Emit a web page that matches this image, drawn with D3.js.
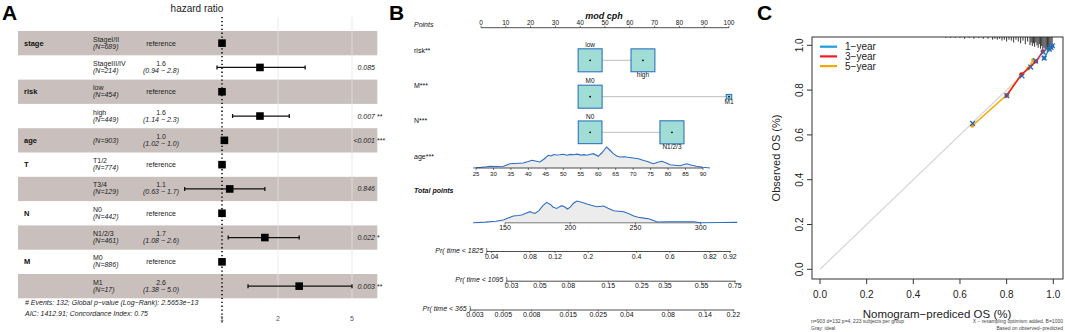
<!DOCTYPE html>
<html>
<head>
<meta charset="utf-8">
<script src="https://cdn.jsdelivr.net/npm/d3@7"></script>
<style>
  body { margin: 0; background: #fff; }
  svg { display: block; font-family: "Liberation Sans", Arial, sans-serif; }
</style>
</head>
<body>
<div class="figure"></div>
<script>
// ---------- panel A : forest plot data
var varNames   = ["stage", "", "risk", "", "age", "T", "", "N", "", "M", ""];
var levelNames = ["StageI/II", "StageIII/IV", "low", "high", "", "T1/2", "T3/4", "N0", "N1/2/3", "M0", "M1"];
var levelN     = [689, 214, 454, 449, 903, 774, 129, 442, 461, 886, 17];
var hrLabel    = ["reference", "1.6", "reference", "1.6", "1.0", "reference", "1.1", "reference", "1.7", "reference", "2.6"];
var ciLabel    = ["", "(0.94 − 2.8)", "", "(1.14 − 2.3)", "(1.02 − 1.0)", "", "(0.63 − 1.7)", "", "(1.08 − 2.6)", "", "(1.38 − 5.0)"];
var hrValue    = [1, 1.6, 1, 1.6, 1.03, 1, 1.1, 1, 1.7, 1, 2.6];
var ciLow      = [null, 0.94, null, 1.14, null, null, 0.63, null, 1.08, null, 1.38];
var ciHigh     = [null, 2.8, null, 2.3, null, null, 1.7, null, 2.6, null, 5.0];
var pValue     = ["", "0.085", "", "0.007", "<0.001", "", "0.846", "", "0.022", "", "0.003"];
var pStars     = ["", "", "", "**", "***", "", "", "", "*", "", "**"];
var hrTicks    = [1, 2, 5];

// ---------- panel B : nomogram data
var pointTicks  = [0, 10, 20, 30, 40, 50, 60, 70, 80, 90, 100];
var riskLevels  = ["low", "high"],  riskPoints = [44, 65.3], riskN = [454, 449];
var mLevels     = ["M0", "M1"],     mPoints    = [44, 100],  mN    = [886, 17];
var nLevels     = ["N0", "N1/2/3"], nPoints    = [44, 77],   nN    = [442, 461];
var ageTicks    = [25, 30, 35, 40, 45, 50, 55, 60, 65, 70, 75, 80, 85, 90];
var ageDensAge  = [24.2, 26, 28, 29, 31, 32.8, 33.5, 34.7, 36, 37.5, 38.5, 40, 41, 42, 43.3, 44.5, 45.7, 46.5, 47.3, 48, 49, 50, 51, 52, 52.9, 54, 55, 56, 56.7, 57.5, 58.6, 60, 61, 62.4, 63.3, 64.3, 65.3, 66.3, 67.5, 69, 70, 71.5, 73, 73.9, 75, 75.8, 77, 78.2, 79.5, 80.6, 82, 83.5, 84.5, 85.4, 86.5, 88.2, 90, 92];
var ageDens     = [0, 0.5, 1.2, 1.7, 1.5, 1.7, 2.5, 4.3, 4.5, 4.8, 5, 6.5, 7.7, 7, 6, 9, 12.7, 12, 13.5, 13, 13.3, 13.8, 12.8, 13.6, 13.3, 13.9, 12.9, 13.4, 12.7, 13.5, 14.3, 11.7, 15, 21, 18, 14.3, 12, 11, 11.3, 10.5, 10, 9.2, 7.5, 6.7, 5.2, 4.3, 5.8, 6.7, 5, 3.3, 2.8, 2.3, 3.5, 4.3, 3, 1.7, 0.8, 0];
var totalTicks  = [150, 200, 250, 300];
var totalDensPt = [125.6, 135, 143, 148.7, 152, 156.4, 160, 162.8, 166, 169.2, 171, 173, 176, 179, 182, 185, 187, 189.7, 191.5, 193.6, 195.5, 197.9, 200, 202.5, 205.1, 208, 212.8, 216, 220.5, 225.6, 229, 233.3, 237, 241, 245, 248.7, 252, 257.7, 260, 262.8, 266.7, 275, 285, 294.9, 300, 315, 328];
var totalDens   = [0, 0.6, 1.5, 2.7, 4.5, 6.7, 7.2, 7.7, 9.5, 11, 10, 9.3, 12, 17, 20.3, 18, 15.5, 14.3, 15.8, 17, 16, 13.7, 15.5, 19.5, 21.7, 20.7, 18.7, 17.5, 16, 16.7, 14.5, 12, 11.5, 11, 9, 6.7, 5.5, 4.3, 4, 2.7, 0.7, 0.9, 1, 1, 0, 0.2, 0.3];
var prNames     = ["Pr( time < 1825 )", "Pr( time < 1095 )", "Pr( time < 365 )"];
var pr1825Ticks = ["0.04", "0.08", "0.12", "0.2", "0.4", "0.6", "0.82", "0.92"];
var pr1825At    = [139.8, 169.2, 188.3, 213.8, 250.9, 276.4, 307.1, 322.4];
var pr1095Ticks = ["0.03", "0.05", "0.08", "0.15", "0.25", "0.35", "0.55", "0.75"];
var pr1095At    = [155.1, 176.8, 198.5, 229.2, 254.8, 272.6, 300.7, 326.2];
var pr365Ticks  = ["0.003", "0.005", "0.008", "0.015", "0.025", "0.04", "0.08", "0.14", "0.22"];
var pr365At     = [127, 148.7, 170.5, 198.5, 221.5, 243.3, 275.1, 303.3, 325];

// ---------- panel C : calibration data
var calTicks    = [0, 0.2, 0.4, 0.6, 0.8, 1.0];
var legendNames = ["1−year", "3−year", "5−year"];
var cal1Pred = [0.961, 0.983, 0.990, 0.996], cal1Obs = [0.943, 0.983, 0.991, 0.998];
var cal3Pred = [0.800, 0.864, 0.926, 0.955], cal3Obs = [0.775, 0.870, 0.928, 0.973];
var cal5Pred = [0.653, 0.800, 0.862, 0.893, 0.914], cal5Obs = [0.641, 0.778, 0.869, 0.897, 0.934];
var corrPred = [0.654, 0.801, 0.866, 0.903, 0.924, 0.957, 0.961, 0.983, 0.990, 0.996];
var corrObs  = [0.651, 0.775, 0.863, 0.903, 0.930, 0.969, 0.943, 0.983, 0.991, 0.998];
var rugPred  = [0.54, 0.56, 0.58, 0.60, 0.62, 0.64, 0.66, 0.68, 0.70, 0.72, 0.74, 0.75, 0.76, 0.77, 0.78, 0.79, 0.80, 0.81, 0.82, 0.83, 0.84, 0.85, 0.86, 0.87, 0.88, 0.89, 0.90, 0.905, 0.91, 0.915, 0.92, 0.925, 0.93, 0.935, 0.94, 0.945, 0.95, 0.955, 0.96, 0.965, 0.97, 0.975, 0.98, 0.985, 0.99, 0.995];
var rugCount = [1, 1, 1, 1, 2, 1, 2, 1, 2, 2, 3, 2, 3, 2, 4, 3, 5, 3, 4, 6, 3, 5, 7, 4, 8, 5, 9, 6, 10, 7, 11, 6, 9, 12, 8, 13, 10, 14, 12, 15, 14, 16, 15, 16, 14, 12];

var svg = d3.select(".figure").append("svg")
    .attr("width", 1065)
    .attr("height", 332);

svg.append("rect").attr("width", 1065).attr("height", 332).attr("fill", "#fff");

// panel letters
svg.append("text").attr("x", 2).attr("y", 20).style("font-size", "21px").style("font-weight", "bold").text("A");
svg.append("text").attr("x", 389).attr("y", 20).style("font-size", "21px").style("font-weight", "bold").text("B");
svg.append("text").attr("x", 757).attr("y", 20).style("font-size", "21px").style("font-weight", "bold").text("C");

// =====================================================================
// panel A
var pa = svg.append("g");
var rowY = d3.scaleBand().domain(d3.range(levelNames.length)).range([31, 298.3]);
var hrX = d3.scaleLog().domain([1, 5]).range([222, 352]);
var mid = function(i) { return rowY(i) + rowY.bandwidth() / 2; };

pa.append("text")
  .attr("x", 197).attr("y", 12)
  .attr("text-anchor", "middle")
  .style("font-size", "10px").style("fill", "#222")
  .text("hazard ratio");

// shaded rows
pa.selectAll("rect.band")
  .data(levelNames)
  .enter().append("rect")
    .attr("x", 18).attr("width", 359.3)
    .attr("y", (d, i) => rowY(i))
    .attr("height", rowY.bandwidth())
    .attr("fill", (d, i) => i % 2 == 0 ? "#c9c0bd" : "none");

// grid lines for 2 and 5
pa.selectAll("line.grid")
  .data(hrTicks.slice(1))
  .enter().append("line")
    .attr("x1", d => hrX(d)).attr("x2", d => hrX(d))
    .attr("y1", 17).attr("y2", 298)
    .style("stroke", "#e3e3e3").style("stroke-width", 1.2).style("opacity", 0.6);

// reference line at HR = 1
pa.append("line")
  .attr("x1", hrX(1)).attr("x2", hrX(1))
  .attr("y1", 17).attr("y2", 324)
  .style("stroke", "#000").style("stroke-width", 1.5)
  .style("stroke-dasharray", "1.3,2.6");

// axis labels
pa.selectAll("text.tick")
  .data(hrTicks)
  .enter().append("text")
    .attr("x", d => hrX(d)).attr("y", 321)
    .attr("text-anchor", "middle")
    .style("font-size", "7px").style("fill", "#555")
    .text(d => d);

// variable names
pa.selectAll("text.var")
  .data(varNames)
  .enter().append("text")
    .attr("x", 24).attr("y", (d, i) => mid(i) + 2.5)
    .style("font-size", "7.5px").style("font-weight", "bold").style("fill", "#111")
    .text(d => d);

// level + N
levelNames.forEach(function(d, i) {
  var c = mid(i);
  if (d != "") {
    pa.append("text").attr("x", 93).attr("y", c - 1.5)
      .style("font-size", "7px").style("fill", "#222").text(d);
    pa.append("text").attr("x", 93).attr("y", c + 5.5)
      .style("font-size", "7px").style("font-style", "italic").style("fill", "#222")
      .text("(N=" + levelN[i] + ")");
  } else {
    pa.append("text").attr("x", 93).attr("y", c + 2.5)
      .style("font-size", "7px").style("font-style", "italic").style("fill", "#222")
      .text("(N=" + levelN[i] + ")");
  }
  // estimate column
  if (ciLabel[i] == "") {
    pa.append("text").attr("x", 161).attr("y", c + 2.5).attr("text-anchor", "middle")
      .style("font-size", "7px").style("fill", "#222").text(hrLabel[i]);
  } else {
    pa.append("text").attr("x", 161).attr("y", c - 1.5).attr("text-anchor", "middle")
      .style("font-size", "7px").style("fill", "#222").text(hrLabel[i]);
    pa.append("text").attr("x", 161).attr("y", c + 5.5).attr("text-anchor", "middle")
      .style("font-size", "7px").style("font-style", "italic").style("fill", "#222").text(ciLabel[i]);
  }
  // p values
  if (pValue[i] != "") {
    pa.append("text").attr("x", 375).attr("y", c + 2.5).attr("text-anchor", "end")
      .style("font-size", "7px").style("font-style", "italic").style("fill", "#222").text(pValue[i]);
    pa.append("text").attr("x", 377).attr("y", c + 2.5)
      .style("font-size", "7px").style("fill", "#222").text(pStars[i]);
  }
  // whiskers
  if (ciLow[i] != null) {
    var g = pa.append("g").style("stroke", "#111").style("stroke-width", 1.3);
    g.append("line").attr("x1", hrX(ciLow[i])).attr("x2", hrX(ciHigh[i])).attr("y1", c).attr("y2", c);
    g.append("line").attr("x1", hrX(ciLow[i])).attr("x2", hrX(ciLow[i])).attr("y1", c - 2).attr("y2", c + 2);
    g.append("line").attr("x1", hrX(ciHigh[i])).attr("x2", hrX(ciHigh[i])).attr("y1", c - 2).attr("y2", c + 2);
  }
});

// estimate squares
pa.selectAll("rect.est")
  .data(hrValue)
  .enter().append("rect")
    .attr("x", d => hrX(d) - 3.8).attr("y", (d, i) => mid(i) - 3.8)
    .attr("width", 7.6).attr("height", 7.6)
    .attr("fill", "#000");

// footer
pa.append("text").attr("x", 25).attr("y", 305)
  .style("font-size", "7px").style("font-style", "italic").style("fill", "#222")
  .text("# Events: 132; Global p−value (Log−Rank): 2.5653e−13");
pa.append("text").attr("x", 25).attr("y", 315.5)
  .style("font-size", "7px").style("font-style", "italic").style("fill", "#222")
  .text("AIC: 1412.91; Concordance Index: 0.75");

// =====================================================================
// panel B
var pb = svg.append("g").style("fill", "#111");
var ptX = d3.scaleLinear().domain([0, 100]).range([481, 729]);
var ageX = d3.scaleLinear().domain([25, 90]).range([476, 703]);
var totX = d3.scaleLinear().domain([150, 300]).range([505, 700.7]);
var boxSize = d3.scaleSqrt().domain([0, 454]).range([0, 23]).clamp(true);

pb.append("text").attr("x", 604).attr("y", 19).attr("text-anchor", "middle")
  .style("font-size", "9px").style("font-weight", "bold").style("font-style", "italic")
  .text("mod cph");

function rowLabel(txt, y, bold) {
  pb.append("text").attr("x", 414).attr("y", y)
    .style("font-size", "7px")
    .style("font-style", bold ? "italic" : "normal")
    .style("font-weight", bold ? "bold" : "normal")
    .text(txt);
}
pb.append("text").attr("x", 414).attr("y", 27).style("font-size", "7px").style("font-style", "italic").text("Points");
rowLabel("risk**", 52.5);
rowLabel("M***", 88);
rowLabel("N***", 122.5);
rowLabel("age***", 159);
rowLabel("Total points", 192.5, true);

// points axis
pb.append("line").attr("x1", ptX(0)).attr("x2", ptX(100)).attr("y1", 27.7).attr("y2", 27.7)
  .style("stroke", "#222").style("stroke-width", 0.8);
pb.selectAll("line.pt").data(pointTicks).enter().append("line")
  .attr("x1", d => ptX(d)).attr("x2", d => ptX(d)).attr("y1", 27.7).attr("y2", 25.7)
  .style("stroke", "#222").style("stroke-width", 0.6);
pb.selectAll("text.pt").data(pointTicks).enter().append("text")
  .attr("x", d => ptX(d)).attr("y", 25).attr("text-anchor", "middle")
  .style("font-size", "6.5px").text(d => d);

// categorical rows with boxes
function boxRow(levels, points, ns, cy) {
  pb.append("line").attr("x1", ptX(d3.min(points))).attr("x2", ptX(d3.max(points)))
    .attr("y1", cy).attr("y2", cy).style("stroke", "#bdbdbd").style("stroke-width", 1);
  levels.forEach(function(lv, i) {
    var s = boxSize(ns[i]);
    pb.append("rect").attr("x", ptX(points[i]) - s / 2 - 0.5).attr("y", cy - s / 2)
      .attr("width", s + 1).attr("height", s)
      .style("fill", "#a0ded5").style("stroke", "#2f73c1").style("stroke-width", 1.1);
    pb.append("circle").attr("cx", ptX(points[i])).attr("cy", cy).attr("r", 0.9).style("fill", "#000");
    var ly = i == 0 ? cy - s / 2 - 2 : cy + s / 2 + 5.5;
    pb.append("text").attr("x", ptX(points[i])).attr("y", ly).attr("text-anchor", "middle")
      .style("font-size", "6.5px").text(lv);
  });
}
boxRow(riskLevels, riskPoints, riskN, 60.3);
boxRow(mLevels, mPoints, mN, 96.7);
boxRow(nLevels, nPoints, nN, 132.3);

// age density
var ageY = d3.scaleLinear().domain([0, 21]).range([168, 147]);
var ageData = ageDensAge.map((a, i) => ({x: a, h: ageDens[i]}));
pb.append("path").datum(ageData)
  .attr("d", d3.area().x(d => ageX(d.x)).y0(168).y1(d => ageY(d.h)))
  .style("fill", "#ececec");
pb.append("path").datum(ageData)
  .attr("d", d3.line().x(d => ageX(d.x)).y(d => ageY(d.h)))
  .style("fill", "none").style("stroke", "#2f6ec3").style("stroke-width", 1.1);
pb.append("line").attr("x1", ageX(25)).attr("x2", ageX(90)).attr("y1", 168).attr("y2", 168)
  .style("stroke", "#222").style("stroke-width", 0.8);
pb.selectAll("line.age").data(ageTicks).enter().append("line")
  .attr("x1", d => ageX(d)).attr("x2", d => ageX(d)).attr("y1", 168).attr("y2", 170)
  .style("stroke", "#222").style("stroke-width", 0.6);
pb.selectAll("text.age").data(ageTicks).enter().append("text")
  .attr("x", d => ageX(d)).attr("y", 175.5).attr("text-anchor", "middle")
  .style("font-size", "6px").text(d => d);

// total points density
var totY = d3.scaleLinear().domain([0, 21.7]).range([222.7, 201]);
var totData = totalDensPt.map((a, i) => ({x: a, h: totalDens[i]}));
pb.append("line").attr("x1", totX(150)).attr("x2", totX(300)).attr("y1", 222.7).attr("y2", 222.7)
  .style("stroke", "#222").style("stroke-width", 1);
pb.append("path").datum(totData)
  .attr("d", d3.area().x(d => totX(d.x)).y0(222.4).y1(d => totY(d.h)))
  .style("fill", "#ececec");
pb.append("path").datum(totData)
  .attr("d", d3.line().x(d => totX(d.x)).y(d => totY(d.h)))
  .style("fill", "none").style("stroke", "#2f6ec3").style("stroke-width", 1.1);
pb.selectAll("line.tot").data(totalTicks).enter().append("line")
  .attr("x1", d => totX(d)).attr("x2", d => totX(d)).attr("y1", 222.7).attr("y2", 224.7)
  .style("stroke", "#222").style("stroke-width", 0.6);
pb.selectAll("text.tot").data(totalTicks).enter().append("text")
  .attr("x", d => totX(d)).attr("y", 229.5).attr("text-anchor", "middle")
  .style("font-size", "7px").text(d => d);

// probability axes
function prAxis(name, ticks, at, ly) {
  var x0 = totX(d3.min(at)) - 5, x1 = totX(d3.max(at)) + 1;
  pb.append("line").attr("x1", x0).attr("x2", x1).attr("y1", ly).attr("y2", ly)
    .style("stroke", "#222").style("stroke-width", 0.8);
  pb.selectAll(null).data(at).enter().append("line")
    .attr("x1", d => totX(d)).attr("x2", d => totX(d)).attr("y1", ly).attr("y2", ly + 1.5)
    .style("stroke", "#222").style("stroke-width", 0.6);
  pb.selectAll(null).data(ticks).enter().append("text")
    .attr("x", (d, i) => totX(at[i])).attr("y", ly + 7)
    .attr("text-anchor", "middle").style("font-size", "7px").text(d => d);
  pb.append("text").attr("x", x0 + 1).attr("y", ly + 1.2).attr("text-anchor", "end")
    .style("font-size", "7px").style("font-style", "italic").text(name);
}
prAxis(prNames[0], pr1825Ticks, pr1825At, 251.5);
prAxis(prNames[1], pr1095Ticks, pr1095At, 281.2);
prAxis(prNames[2], pr365Ticks, pr365At, 310);

// =====================================================================
// panel C
var pc = svg.append("g");
var cx = d3.scaleLinear().domain([0, 1]).range([820, 1053.3]);
var cy = d3.scaleLinear().domain([0, 1]).range([269.3, 45.3]);
var colors = ["#1b9edb", "#ee1d24", "#f5a700"];

// ideal line
pc.append("line").attr("x1", cx(0)).attr("y1", cy(0)).attr("x2", cx(1)).attr("y2", cy(1))
  .style("stroke", "#d6d6d6").style("stroke-width", 1.2);

// spike histogram of predictions
pc.selectAll("line.rug").data(rugPred).enter().append("line")
  .attr("x1", d => cx(d)).attr("x2", d => cx(d))
  .attr("y1", 37).attr("y2", (d, i) => 37 + rugCount[i] * 0.9)
  .style("stroke", "#000").style("stroke-width", 0.8);

// calibration curves
var series = [[cal1Pred, cal1Obs], [cal3Pred, cal3Obs], [cal5Pred, cal5Obs]];
series.slice().reverse().forEach(function(s, k) {
  var idx = 2 - k;
  var pts = s[0].map((p, i) => [cx(p), cy(s[1][i])]);
  pc.append("path").attr("d", d3.line()(pts))
    .style("fill", "none").style("stroke", colors[idx]).style("stroke-width", 1.5);
  pc.selectAll(null).data(pts).enter().append("circle")
    .attr("cx", d => d[0]).attr("cy", d => d[1]).attr("r", 2.1)
    .style("fill", colors[idx]);
});

// bootstrap corrected estimates
corrPred.forEach(function(p, i) {
  var x = cx(p), y = cy(corrObs[i]), r = 2.4;
  pc.append("path").attr("d", "M" + (x - r) + "," + (y - r) + "L" + (x + r) + "," + (y + r) + "M" + (x - r) + "," + (y + r) + "L" + (x + r) + "," + (y - r))
    .style("stroke", "#2a66b0").style("stroke-width", 1.3);
});

// frame
pc.append("rect").attr("x", 812).attr("y", 37).attr("width", 251).attr("height", 242)
  .style("fill", "none").style("stroke", "#333").style("stroke-width", 1);

// axes
pc.selectAll("line.xt").data(calTicks).enter().append("line")
  .attr("x1", d => cx(d)).attr("x2", d => cx(d)).attr("y1", 279).attr("y2", 284)
  .style("stroke", "#333");
pc.selectAll("text.xt").data(calTicks).enter().append("text")
  .attr("x", d => cx(d)).attr("y", 298).attr("text-anchor", "middle")
  .style("font-size", "10px").style("fill", "#222").text(d => d.toFixed(1));
pc.selectAll("line.yt").data(calTicks).enter().append("line")
  .attr("x1", 812).attr("x2", 807).attr("y1", d => cy(d)).attr("y2", d => cy(d))
  .style("stroke", "#333");
pc.selectAll("text.yt").data(calTicks).enter().append("text")
  .attr("transform", d => "translate(803," + cy(d) + ") rotate(-90)")
  .attr("text-anchor", "middle")
  .style("font-size", "10px").style("fill", "#222").text(d => d.toFixed(1));

pc.append("text").attr("transform", "translate(780,158) rotate(-90)")
  .attr("text-anchor", "middle").style("font-size", "11px").style("fill", "#222")
  .text("Observed OS (%)");
pc.append("text").attr("x", 937).attr("y", 317.5).attr("text-anchor", "middle")
  .style("font-size", "11.5px").style("fill", "#222")
  .text("Nomogram−prediced OS (%)");

// legend
legendNames.forEach(function(n, i) {
  var y = 46.7 + i * 9.7;
  pc.append("line").attr("x1", 820).attr("x2", 837).attr("y1", y).attr("y2", y)
    .style("stroke", colors[i]).style("stroke-width", 2.2);
  pc.append("text").attr("x", 845).attr("y", y + 3.5)
    .style("font-size", "10px").style("fill", "#222").text(n);
});

// footnotes
pc.append("text").attr("x", 811).attr("y", 322.5).style("font-size", "5px").style("fill", "#444")
  .text("n=903 d=132 p=4, 223 subjects per group");
pc.append("text").attr("x", 811).attr("y", 329.5).style("font-size", "5px").style("fill", "#444")
  .text("Gray: ideal");
pc.append("text").attr("x", 1063).attr("y", 322.5).attr("text-anchor", "end").style("font-size", "5px").style("fill", "#444")
  .text("X − resampling optimism added, B=1000");
pc.append("text").attr("x", 1063).attr("y", 329.5).attr("text-anchor", "end").style("font-size", "5px").style("fill", "#444")
  .text("Based on observed−predicted");
</script>
</body>
</html>
